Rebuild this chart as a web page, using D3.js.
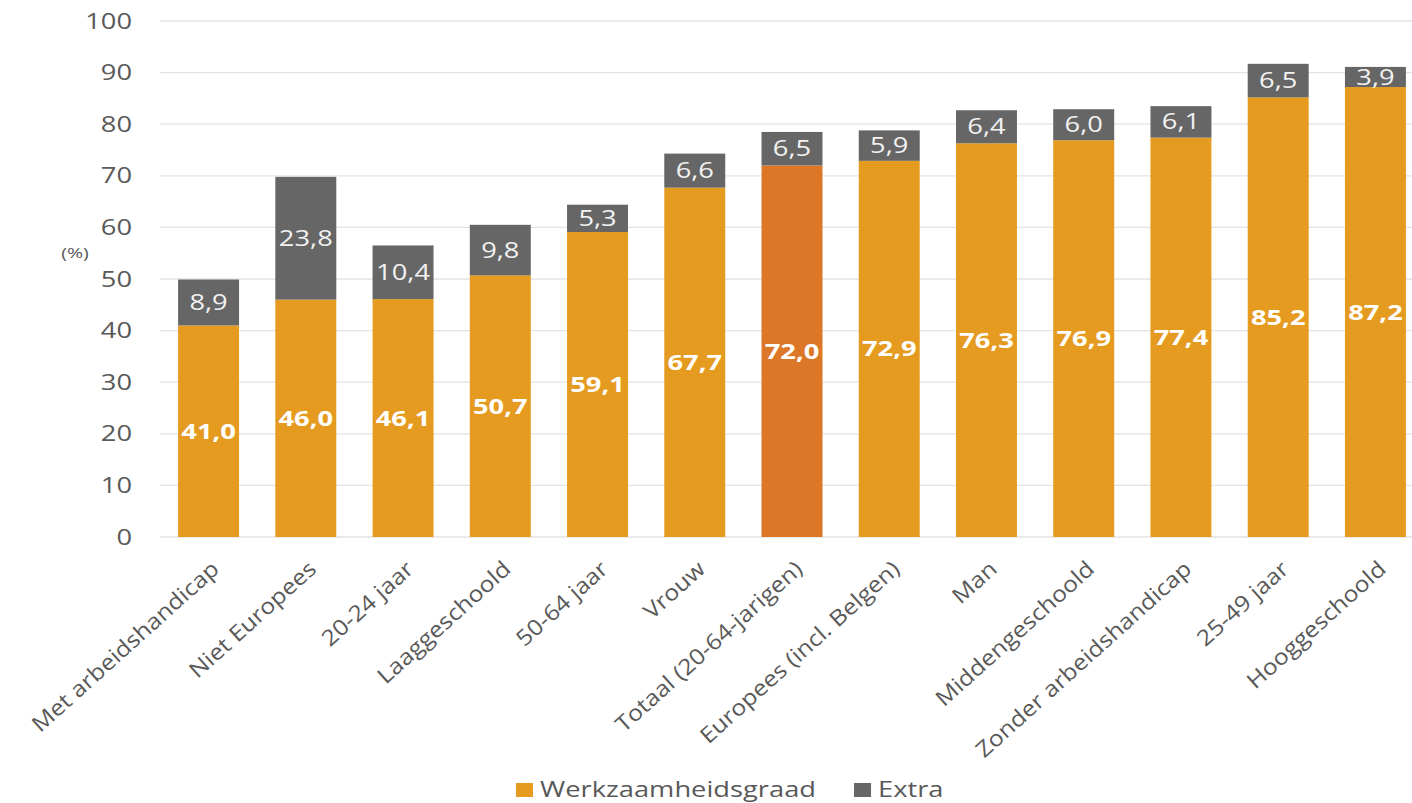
<!DOCTYPE html>
<html>
<head>
<meta charset="utf-8">
<script src="https://cdn.jsdelivr.net/npm/d3@7"></script>
<style>
  body { margin: 0; background: #fff; }
  text { font-family: "Open Sans", sans-serif; }
</style>
</head>
<body>
<svg id="chart" width="1412" height="803"></svg>
<script>
// Categories and series values
var categories = ["Met arbeidshandicap", "Niet Europees", "20-24 jaar", "Laaggeschoold",
  "50-64 jaar", "Vrouw", "Totaal (20-64-jarigen)", "Europees (incl. Belgen)", "Man",
  "Middengeschoold", "Zonder arbeidshandicap", "25-49 jaar", "Hooggeschoold"];
var werkzaamheid = [41.0, 46.0, 46.1, 50.7, 59.1, 67.7, 72.0, 72.9, 76.3, 76.9, 77.4, 85.2, 87.2];
var extra = [8.9, 23.8, 10.4, 9.8, 5.3, 6.6, 6.5, 5.9, 6.4, 6.0, 6.1, 6.5, 3.9];
var yTicks = [0, 10, 20, 30, 40, 50, 60, 70, 80, 90, 100];
var highlightCat = "Totaal (20-64-jarigen)";

var cOrange = "#e59b1f",
    cTotal = "#dc7727",
    cGrey = "#666666",
    cText = "#595959";

// the original text is drawn wide, so stretch horizontal text a bit
var sx = 1.3;

var svg = d3.select("#chart");

var x = d3.scaleBand()
    .domain(categories)
    .range([160, 1424])
    .paddingInner(0.373)
    .paddingOuter(0.186);

var y = d3.scaleLinear()
    .domain([0, 100])
    .range([537, 21]);

var rows = categories.map(function (c, i) {
  return { cat: c, w: werkzaamheid[i], e: extra[i] };
});

function place(px, py) {
  return "translate(" + px + "," + py + ") scale(" + sx + ",1)";
}

// gridlines
svg.append("g")
  .selectAll("line")
  .data(yTicks)
  .join("line")
    .attr("x1", 160)
    .attr("x2", 1412)
    .attr("y1", d => y(d))
    .attr("y2", d => y(d))
    .attr("stroke", "#e3e3e3")
    .attr("stroke-width", 1.3);

// y axis labels
svg.append("g").selectAll("text")
  .data(yTicks)
  .join("text")
    .attr("transform", d => place(132, y(d)))
    .attr("dy", "0.36em")
    .attr("text-anchor", "end")
    .attr("fill", cText)
    .attr("font-size", 21)
    .text(d => d);

svg.append("text")
    .attr("transform", place(75, 258))
    .attr("text-anchor", "middle")
    .attr("fill", cText)
    .attr("font-size", 15)
    .text("(%)");

// bars
var bars = svg.append("g").selectAll("g")
  .data(rows)
  .join("g");

bars.append("rect")
    .attr("x", d => x(d.cat))
    .attr("width", x.bandwidth())
    .attr("y", d => y(d.w))
    .attr("height", d => y(0) - y(d.w))
    .attr("fill", d => d.cat === highlightCat ? cTotal : cOrange);

bars.append("rect")
    .attr("x", d => x(d.cat))
    .attr("width", x.bandwidth())
    .attr("y", d => y(d.w + d.e))
    .attr("height", d => y(d.w) - y(d.w + d.e))
    .attr("fill", cGrey);

var fmt = v => d3.format(".1f")(v).replace(".", ",");

bars.append("text")
    .attr("transform", d => place(x(d.cat) + x.bandwidth() / 2, y(d.w / 2)))
    .attr("dy", "0.36em")
    .attr("text-anchor", "middle")
    .attr("fill", "#fff")
    .attr("font-size", 21)
    .attr("font-weight", "bold")
    .text(d => fmt(d.w));

bars.append("text")
    .attr("transform", d => place(x(d.cat) + x.bandwidth() / 2, y(d.w + d.e / 2)))
    .attr("dy", "0.36em")
    .attr("text-anchor", "middle")
    .attr("fill", "#f2f2f2")
    .attr("font-size", 21)
    .text(d => fmt(d.e));

// x labels, rotated
svg.append("g").selectAll("text")
  .data(categories)
  .join("text")
    .attr("transform", d => "translate(" + (x(d) + x.bandwidth() / 2 + 12) + ",571) rotate(-42) scale(1.12,1)")
    .attr("text-anchor", "end")
    .attr("fill", cText)
    .attr("font-size", 22)
    .text(d => d);

// legend
var legendItems = [
  { name: "Werkzaamheidsgraad", color: cOrange },
  { name: "Extra", color: cGrey }
];
var legend = svg.append("g").attr("transform", "translate(516,783)");
var lx = 0;
legendItems.forEach(function (it) {
  legend.append("rect")
      .attr("x", lx).attr("y", 0)
      .attr("width", 17).attr("height", 14)
      .attr("fill", it.color);
  var t = legend.append("text")
      .attr("transform", "translate(" + (lx + 24) + ",14) scale(" + sx + ",1)")
      .attr("fill", cText)
      .attr("font-size", 21)
      .text(it.name);
  lx += 24 + t.node().getComputedTextLength() * sx + 38;
});
</script>
</body>
</html>
